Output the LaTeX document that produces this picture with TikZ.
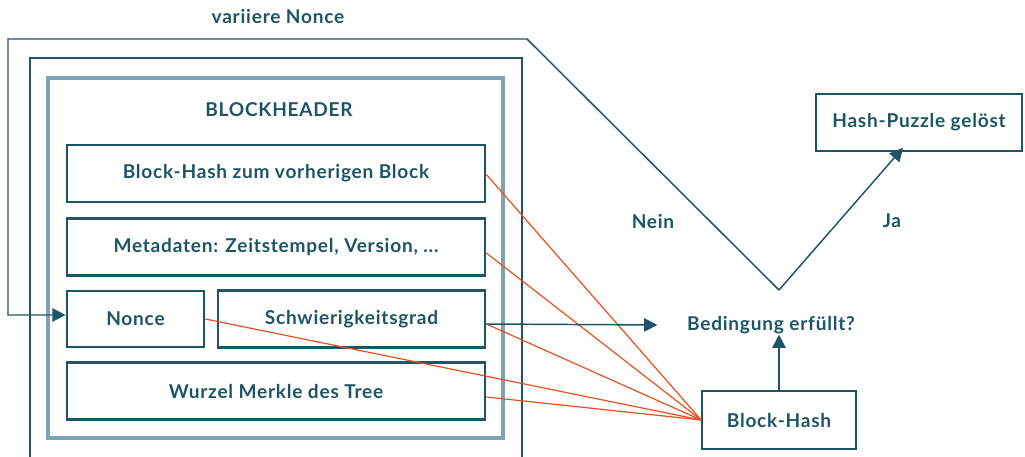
\documentclass[tikz,border=0pt]{standalone}
\usepackage{fontspec}
\setmainfont{Lato}[UprightFont=* Bold,LetterSpace=4]
\usetikzlibrary{arrows.meta,calc}
\definecolor{ink}{HTML}{1E5566}
\definecolor{frameLight}{HTML}{7FA3B3}
\definecolor{hashRed}{HTML}{E8501E}
\begin{document}
\begin{tikzpicture}[x=0.75pt,y=-0.75pt,
  lbl/.style={text=ink,font=\fontsize{14.3}{17}\selectfont},
  field/.style={draw=ink,line width=2pt,lbl,inner sep=0pt},
  plainbox/.style={draw=ink,line width=1.2pt,lbl,inner sep=0pt},
  flow/.style={draw=ink,line width=1.1pt,-{Triangle[length=10pt,width=10pt]}},
  hashline/.style={draw=hashRed,line width=0.9pt}]
\useasboundingbox (0,0) rectangle (1025,457);
% outer frames
\draw[frameLight,line width=2.4pt] (48,78) rectangle (503,438);
\draw[ink,line width=1.6pt] (30,457) -- (30,58) -- (522,58) -- (522,457);
% header fields
\node[lbl] (title) at (279,110) {BLOCKHEADER};
\node[field,minimum width=418*0.75pt,minimum height=57*0.75pt] (prev) at (276,173.5) {Block-Hash zum vorherigen Block};
\node[field,minimum width=418*0.75pt,minimum height=57*0.75pt] (meta) at (276,247) {Metadaten: Zeitstempel, Version, ...};
\node[field,minimum width=137*0.75pt,minimum height=56*0.75pt] (nonce) at (135.5,319) {Nonce};
\node[field,minimum width=267*0.75pt,minimum height=57*0.75pt] (diff) at (351.5,319) {Schwierigkeitsgrad};
\node[field,minimum width=418*0.75pt,minimum height=57*0.75pt] (merkle) at (276,391) {Wurzel Merkle des Tree};
% hashing and check
\node[plainbox,minimum width=154*0.75pt,minimum height=58*0.75pt] (hash) at (779,420) {Block-Hash};
\node[lbl] (cond) at (771,325) {Bedingung erfüllt?};
\node[plainbox,minimum width=206*0.75pt,minimum height=57*0.75pt] (solved) at (919,122.5) {Hash-Puzzle gelöst};
\node[lbl] (loopLbl) at (278,17) {variiere Nonce};
\node[lbl] (no) at (653,221) {Nein};
\node[lbl] (yes) at (892,221) {Ja};
\coordinate (vtx) at (779,290);
\coordinate (topR) at (527,39);
\coordinate (topL) at (8,39);
% hash inputs
\draw[hashline] ([yshift=-1*0.75pt]prev.east) -- (hash.west);
\draw[hashline] ([yshift=-6*0.75pt]meta.east) -- (hash.west);
\draw[hashline] (nonce.east) -- (hash.west);
\draw[hashline] ([yshift=-5*0.75pt]diff.east) -- (hash.west);
\draw[hashline] ([yshift=-6*0.75pt]merkle.east) -- (hash.west);
% flow arrows
\draw[flow] ([yshift=-5*0.75pt]diff.east) -- ([xshift=-25*0.75pt]cond.west |- cond.center);
\draw[flow] (hash.north) -- ([yshift=4*0.75pt]cond.south -| hash.north);
\draw[flow] (vtx) -- ([xshift=-16*0.75pt,yshift=4*0.75pt]solved.south);
\draw[draw=ink,line width=1.1pt,-{Triangle[length=10pt,width=10pt]}] (vtx) -- (topR) -- (topL) |- ([yshift=4*0.75pt]nonce.west);
\end{tikzpicture}
\end{document}
